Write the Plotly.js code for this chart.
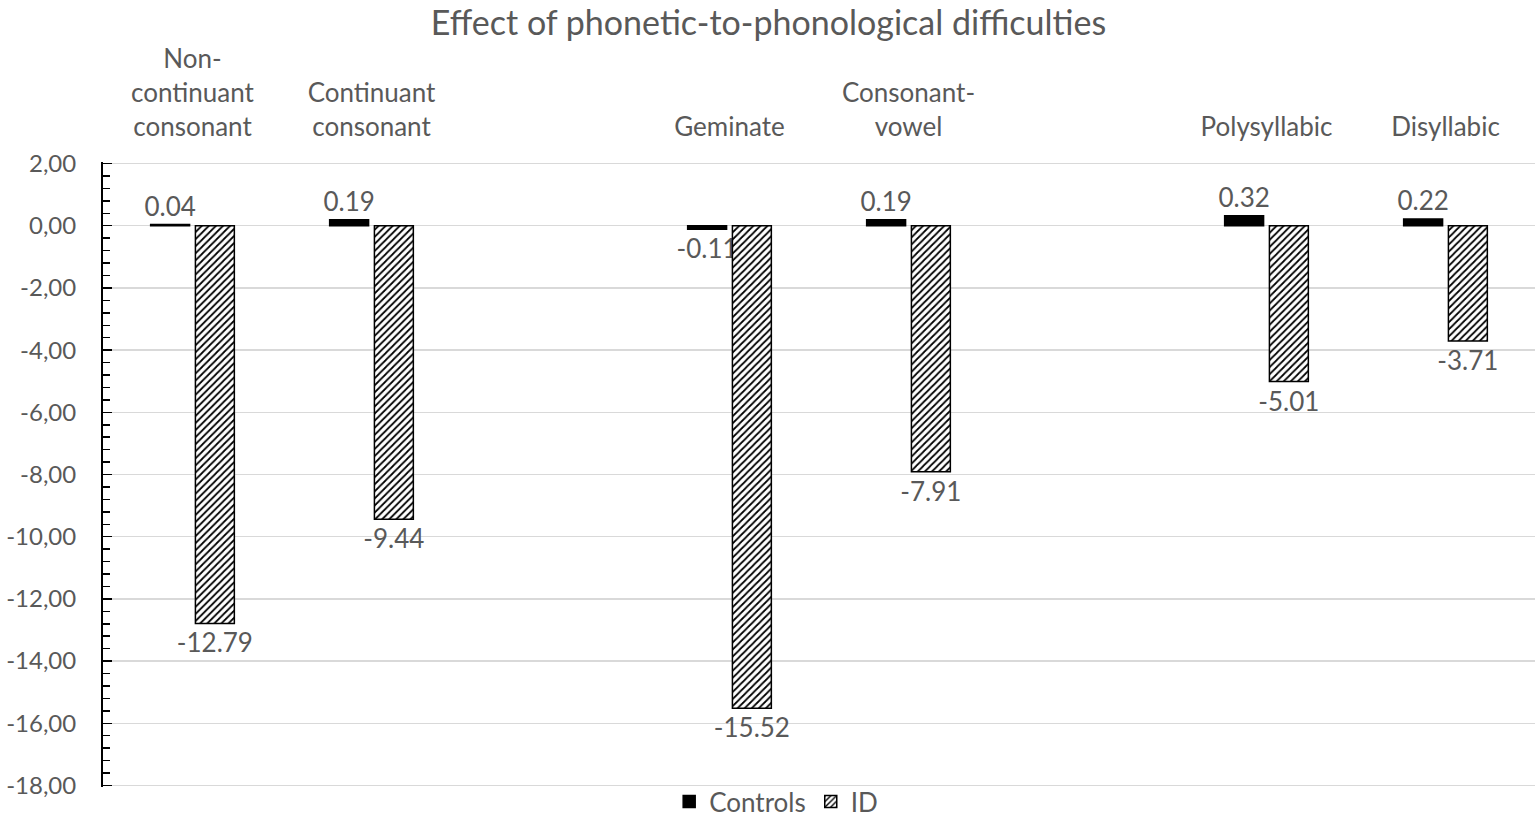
<!DOCTYPE html>
<html>
<head>
<meta charset="utf-8">
<script src="https://cdn.plot.ly/plotly-3.0.1.min.js"></script>
<style>
  html, body { margin: 0; padding: 0; background: #fff; }
  #myDiv { width: 1537px; height: 825px; }
</style>
</head>
<body>
<div id="myDiv"></div>
<script>
// categories, with two blank spacer slots between the groups
var categories = ["Non-<br>continuant<br>consonant", "Continuant<br>consonant",
  "Geminate", "Consonant-<br>vowel", "Polysyllabic", "Disyllabic"];
var axisOrder = ["Non-<br>continuant<br>consonant", "Continuant<br>consonant", " ",
  "Geminate", "Consonant-<br>vowel", "  ", "Polysyllabic", "Disyllabic"];
var controls = [0.04, 0.19, -0.11, 0.19, 0.32, 0.22];
var idScores = [-12.79, -9.44, -15.52, -7.91, -5.01, -3.71];
var yTicks = [2, 0, -2, -4, -6, -8, -10, -12, -14, -16, -18];
var yTickText = ["2,00", "0,00", "-2,00", "-4,00", "-6,00", "-8,00", "-10,00",
  "-12,00", "-14,00", "-16,00", "-18,00"];

var grey = "#595959";
var font = "Lato, 'Open Sans', sans-serif";

function labels(vals) {
  return vals.map(function(v) { return v.toFixed(2); });
}

var trace1 = {
  x: categories,
  y: controls,
  name: "Controls",
  type: "bar",
  marker: { color: "#000000", line: { color: "#000000", width: 1.5 } },
  text: labels(controls),
  textposition: "outside",
  constraintext: "none",
  textfont: { color: grey, size: 26, family: font },
  cliponaxis: false,
  hoverinfo: "x+y"
};

var trace2 = {
  x: categories,
  y: idScores,
  name: "ID",
  type: "bar",
  marker: {
    color: "#ffffff",
    line: { color: "#000000", width: 1.5 },
    pattern: { shape: "/", fgcolor: "#000000", bgcolor: "#ffffff", size: 5, solidity: 0.35 }
  },
  text: labels(idScores),
  textposition: "outside",
  constraintext: "none",
  textfont: { color: grey, size: 26, family: font },
  cliponaxis: false,
  hoverinfo: "x+y"
};

var layout = {
  width: 1537,
  height: 825,
  margin: { l: 103, r: 2, t: 162, b: 38, autoexpand: false },
  paper_bgcolor: "#ffffff",
  plot_bgcolor: "#ffffff",
  font: { family: font, color: grey, size: 24 },
  title: {
    text: "Effect of phonetic-to-phonological difficulties",
    font: { size: 34, color: grey, family: font },
    x: 0.5,
    xanchor: "center",
    y: 0.972,
    yanchor: "middle"
  },
  barmode: "group",
  bargap: 0.5,
  bargroupgap: 0.13,
  showlegend: true,
  legend: {
    orientation: "h",
    xref: "container",
    x: 0.505,
    xanchor: "center",
    yref: "container",
    y: -0.012,
    yanchor: "bottom",
    bgcolor: "rgba(0,0,0,0)",
    font: { size: 26, color: grey, family: font },
    itemwidth: 30
  },
  xaxis: {
    type: "category",
    side: "top",
    categoryorder: "array",
    categoryarray: axisOrder,
    range: [-0.5, 7.5],
    showline: false,
    showgrid: false,
    ticks: "",
    ticklabelstandoff: 20,
    tickfont: { size: 26, color: grey, family: font },
    fixedrange: true
  },
  yaxis: {
    range: [-18.05, 2.05],
    tickmode: "array",
    tickvals: yTicks,
    ticktext: yTickText,
    showgrid: true,
    gridcolor: "#d9d9d9",
    gridwidth: 1.5,
    zeroline: true,
    zerolinecolor: "#d9d9d9",
    zerolinewidth: 1.5,
    showline: true,
    linecolor: "#000000",
    linewidth: 2,
    ticks: "inside",
    ticklen: 9,
    tickwidth: 1.5,
    tickcolor: "#000000",
    ticklabelstandoff: 20,
    tickfont: { size: 24, color: grey, family: font },
    minor: { tick0: 0, dtick: 0.4, ticks: "inside", ticklen: 7, tickwidth: 1.5, tickcolor: "#000000", showgrid: false },
    fixedrange: true
  }
};

Plotly.newPlot("myDiv", [trace1, trace2], layout, { displayModeBar: false, staticPlot: true });
</script>
</body>
</html>
